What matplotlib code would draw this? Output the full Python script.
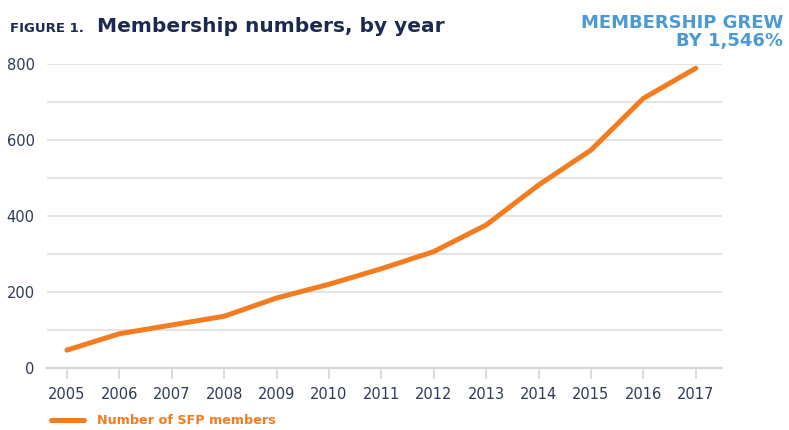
import matplotlib.pyplot as plt
from matplotlib.ticker import MultipleLocator

years = [2005, 2006, 2007, 2008, 2009, 2010, 2011, 2012, 2013, 2014, 2015, 2016, 2017]
members = [47, 90, 113, 136, 184, 220, 261, 306, 376, 481, 573, 709, 788]
series_label = "Number of SFP members"

ORANGE = "#F47C20"
NAVY = "#1C2951"
TICK_TEXT = "#2E3A59"
BLUE = "#4A9AD6"
GRID = "#E2E2E2"

plt.rcParams["font.family"] = ["DejaVu Sans"]

fig = plt.figure(figsize=(7.89, 4.30), dpi=100)
ax = fig.add_axes([0.0596, 0.1442, 0.8555, 0.7077])

ax.plot(years, members, color=ORANGE, lw=3.6, solid_capstyle="round",
        solid_joinstyle="round", label=series_label, clip_on=False, zorder=3)

ax.set_xlim(2004.62, 2017.5)
ax.set_ylim(0, 800)
ax.set_xticks(years)
ax.yaxis.set_major_locator(MultipleLocator(200))
ax.yaxis.set_minor_locator(MultipleLocator(100))
ax.grid(True, axis="y", which="both", color=GRID, lw=1.3)
ax.set_axisbelow(True)

for side in ["left", "right", "top"]:
    ax.spines[side].set_visible(False)
ax.spines["bottom"].set_color("#D6D6D6")
ax.spines["bottom"].set_linewidth(1.6)

ax.tick_params(axis="x", length=8, width=1.2, color="#D6D6D6", pad=6,
               labelsize=10.5, labelcolor=TICK_TEXT)
ax.tick_params(axis="y", which="both", length=0, pad=9,
               labelsize=10.5, labelcolor=TICK_TEXT)

fig.text(0.013, 0.925, "FIGURE 1.", fontsize=9.5, fontweight="bold", color=NAVY)
fig.text(0.123, 0.925, "Membership numbers, by year", fontsize=14.5,
         fontweight="bold", color=NAVY)

fig.text(0.993, 0.968, "MEMBERSHIP GREW\nBY 1,546%", ha="right", va="top",
         fontsize=13, fontweight="bold", color=BLUE, linespacing=1.0,
         multialignment="right")

fig.legend(loc="center left", bbox_to_anchor=(0.05, 0.022), frameon=False,
           handlelength=2.6, handletextpad=1.0, labelcolor=ORANGE,
           prop={"weight": "bold", "size": 9.2})

fig.savefig("out.png", dpi=100)
